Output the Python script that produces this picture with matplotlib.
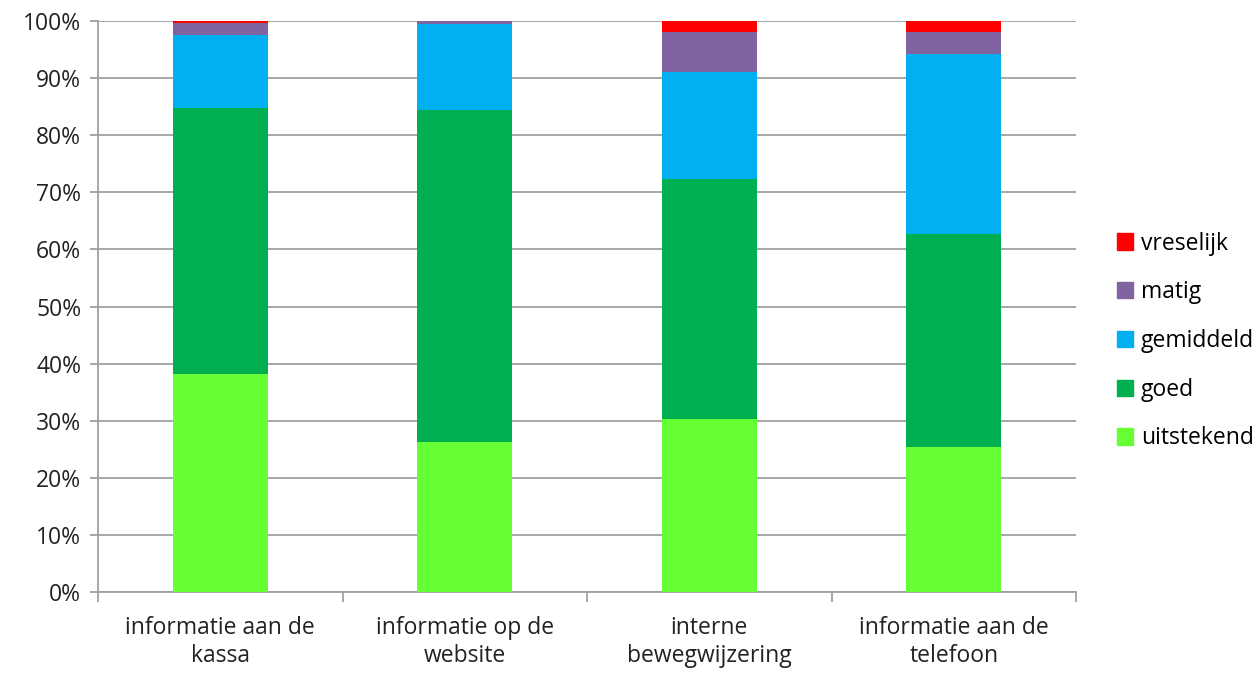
import numpy as np
import matplotlib.pyplot as plt
from matplotlib.patches import Patch

# Categorieën en waarden (percentages)
categories = ['informatie aan de\nkassa', 'informatie op de\nwebsite',
              'interne\nbewegwijzering', 'informatie aan de\ntelefoon']
uitstekend = [38.2, 26.3, 30.3, 25.4]
goed = [46.6, 58.1, 42.0, 37.3]
gemiddeld = [12.8, 15.1, 18.8, 31.6]
matig = [2.1, 0.5, 7.0, 3.8]
vreselijk = [0.3, 0.0, 1.9, 1.9]

series = [('uitstekend', uitstekend, '#66ff33'),
          ('goed', goed, '#00b050'),
          ('gemiddeld', gemiddeld, '#00b0f0'),
          ('matig', matig, '#8064a2'),
          ('vreselijk', vreselijk, '#ff0000')]

plt.rcParams['font.family'] = ['Open Sans', 'DejaVu Sans']
fs = 16.5

fig = plt.figure(figsize=(12.6, 6.73), dpi=100)
ax = fig.add_axes([98 / 1260, 1 - 592 / 673, (1076 - 98) / 1260, (592 - 21) / 673])

x = np.arange(len(categories))
bottom = np.zeros(len(categories))
for name, vals, col in series:
    ax.bar(x, vals, width=0.39, bottom=bottom, color=col, zorder=3)
    bottom += np.array(vals)

ax.set_xlim(-0.5, len(categories) - 0.5)
ax.set_ylim(0, 100)
ax.set_yticks(np.arange(0, 101, 10))
ax.set_yticklabels([f'{v}%' for v in range(0, 101, 10)], fontsize=fs, color='#222222')
ax.yaxis.grid(True, color='#a0a0a0', linewidth=1.3, zorder=0)

# x-as: tickstreepjes tussen de categorieën, labels in het midden
ax.set_xticks(np.arange(-0.5, len(categories), 1))
ax.set_xticklabels([])
ax.set_xticks(x, minor=True)
ax.set_xticklabels(categories, minor=True, fontsize=fs, color='#222222', linespacing=1.25)
ax.tick_params(axis='x', which='minor', length=0, pad=17)
ax.tick_params(axis='x', which='major', length=7, color='#a0a0a0', width=1.3)
ax.tick_params(axis='y', length=6, color='#a0a0a0', width=1.3, pad=6)

for s in ['top', 'right']:
    ax.spines[s].set_visible(False)
for s in ['left', 'bottom']:
    ax.spines[s].set_color('#a0a0a0')
    ax.spines[s].set_linewidth(1.3)

handles = [Patch(color=col, label=name) for name, vals, col in series][::-1]
fig.legend(handles=handles, loc='center left', bbox_to_anchor=(1117 / 1260, 1 - 341 / 673),
           frameon=False, fontsize=fs, handlelength=0.7, handleheight=0.7,
           handletextpad=0.35, labelspacing=1.08, borderaxespad=0, borderpad=0)

plt.savefig('out.png', dpi=100)
